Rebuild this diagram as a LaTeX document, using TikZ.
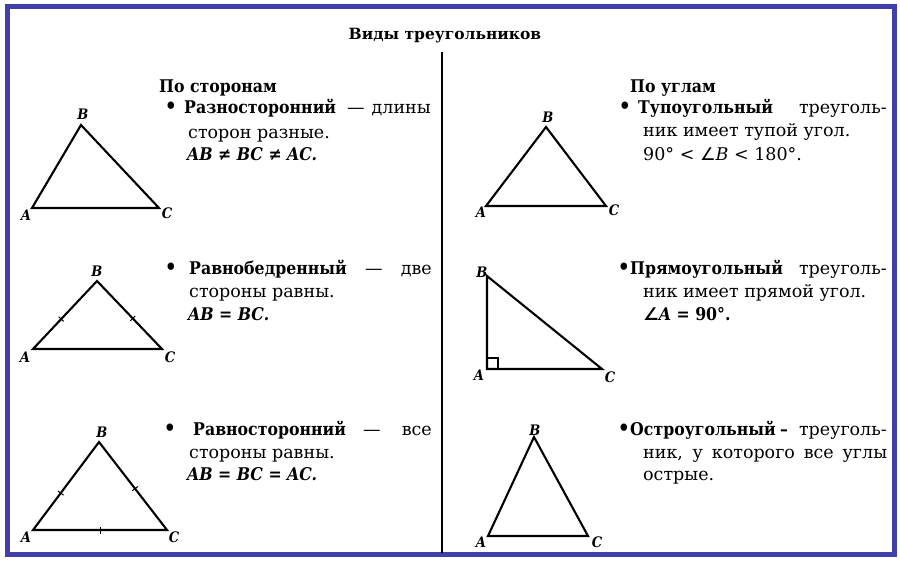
\documentclass[tikz,border=0pt]{standalone}
\usepackage{fontspec}
\setmainfont{DejaVu Serif}[BoldFeatures={FakeStretch=0.9}, BoldItalicFeatures={FakeStretch=0.9}]
\newfontfamily\tfont{DejaVu Serif}
\newfontfamily\symfont{DejaVu Sans}
\definecolor{frameblue}{RGB}{64,64,168}
\begin{document}
\begin{tikzpicture}[x=1pt,y=-1pt,
  txt/.style={anchor=base west, inner sep=0pt, font=\fontsize{17.5}{20}\selectfont},
  txte/.style={txt, anchor=base east},
  head/.style={txt, font=\fontsize{17.5}{20}\selectfont\bfseries},
  formula/.style={txt, font=\fontsize{17.5}{20}\selectfont\bfseries\itshape},
  bul/.style={anchor=base, inner sep=0pt, font=\fontsize{21}{22}\selectfont\bfseries},
  vlab/.style={inner sep=0pt, font=\fontsize{14.5}{16}\selectfont\bfseries\itshape},
  tri/.style={line width=2.1pt, line join=miter},
  tickmark/.style={sloped, inner sep=0pt, anchor=center},
]
% background and bounding box
\fill[white] (0,0) rectangle (900,564);
\useasboundingbox (0,0) rectangle (900,564);
% frame
\draw[frameblue, line width=4.5pt] (7.5,6.5) rectangle (894.5,554.5);
% divider
\coordinate (dtop) at (442,52);
\coordinate (dbot) at (442,553);
\draw[line width=1.4pt] (dtop) -- (dbot);

% title
\node[anchor=base, inner sep=0pt, font=\fontsize{15.5}{18}\tfont\bfseries] (title) at (445,40) {Виды треугольников};

% ===== Left column =====
\node[head] (hl) at (159,93) {По сторонам};

% block 1
\node[bul] (b1) at (171,114) {•};
\node[head] (l1a) at (184,114) {Разносторонний};
\node[txt] (l1b) at (347,114) {—};
\node[txte] (l1c) at (431,114) {длины};
\node[txt] (l1d) at (188,139) {сторон разные.};
\node[formula] (l1e) at (187,161) {AB ≠ BC ≠ AC.};

% block 2
\node[bul] (b2) at (171,275) {•};
\node[head] (l2a) at (189,275) {Равнобедренный};
\node[txt] (l2b) at (365,275) {—};
\node[txte] (l2c) at (432,275) {две};
\node[txt] (l2d) at (189,298) {стороны равны.};
\node[formula] (l2e) at (188,320) {AB = BC.};

% block 3
\node[bul] (b3) at (170,435) {•};
\node[head] (l3a) at (193,435) {Равносторонний};
\node[txt] (l3b) at (363,435) {—};
\node[txte] (l3c) at (432,435) {все};
\node[txt] (l3d) at (189,458) {стороны равны.};
\node[formula] (l3e) at (187,480) {AB = BC = AC.};

% ===== Right column =====
\node[head] (hr) at (630,93) {По углам};

% block R1
\node[bul] (r1) at (625,114) {•};
\node[head] (r1a) at (638,114) {Тупоугольный};
\node[txte] (r1b) at (887,114) {треуголь-};
\node[txt] (r1c) at (643,137) {ник имеет тупой угол.};
\node[txt] (r1d) at (643,161) {90° < {\symfont ∠}\textit{B} < 180°.};

% block R2
\node[bul] (r2) at (624,275) {•};
\node[head] (r2a) at (630,275) {Прямоугольный};
\node[txte] (r2b) at (887,275) {треуголь-};
\node[txt] (r2c) at (643,298) {ник имеет прямой угол.};
\node[txt, font=\fontsize{17.5}{20}\selectfont\bfseries] (r2d) at (643,320) {{\symfont ∠}\textit{A} = 90°.};

% block R3
\node[bul] (r3) at (624,435) {•};
\node[head] (r3a) at (630,435) {Остроугольный};
\node[head] (r3b) at (780,435) {–};
\node[txte] (r3c) at (887,435) {треуголь-};
\node[txt] (r3d) at (643,458) {\makebox[244pt][s]{ник, у которого все углы}};
\node[txt] (r3e) at (643,480) {острые.};

% ===== Triangles =====
% T1 scalene
\coordinate (t1A) at (32,208);
\coordinate (t1B) at (81,125);
\coordinate (t1C) at (159,208);
\draw[tri] (t1A) -- (t1B) -- (t1C) -- cycle;
\node[vlab] (t1a) at (26,215) {A};
\node[vlab] (t1b) at (83,114) {B};
\node[vlab] (t1c) at (167,213) {C};

% T2
\coordinate (t2A) at (486,206);
\coordinate (t2B) at (546,127);
\coordinate (t2C) at (606,206);
\draw[tri] (t2A) -- (t2B) -- (t2C) -- cycle;
\node[vlab] (t2a) at (481,212) {A};
\node[vlab] (t2b) at (548,117) {B};
\node[vlab] (t2c) at (614,210) {C};

% T3 isosceles
\coordinate (t3A) at (33,349);
\coordinate (t3B) at (97,281);
\coordinate (t3C) at (162,349);
\draw[tri] (t3A) -- (t3B) -- (t3C) -- cycle;
\path (t3A) -- (t3B) node[tickmark, pos=0.44] {\rule{1pt}{7pt}};
\path (t3B) -- (t3C) node[tickmark, pos=0.55] {\rule{1pt}{7pt}};
\node[vlab] (t3a) at (25,357) {A};
\node[vlab] (t3b) at (97,271) {B};
\node[vlab] (t3c) at (170,357) {C};

% T4 right
\coordinate (t4A) at (487,369);
\coordinate (t4B) at (487,276);
\coordinate (t4C) at (602,369);
\draw[tri] (t4A) -- (t4B) -- (t4C) -- cycle;
\coordinate (sq1) at (487,358);
\coordinate (sq2) at (498,358);
\coordinate (sq3) at (498,369);
\draw[line width=1.2pt] (sq1) -- (sq2) -- (sq3);
\node[vlab] (t4b) at (482,272) {B};
\node[vlab] (t4a) at (479,375) {A};
\node[vlab] (t4c) at (610,377) {C};

% T5 equilateral
\coordinate (t5A) at (33,530);
\coordinate (t5B) at (99,442);
\coordinate (t5C) at (167,530);
\draw[tri] (t5A) -- (t5B) -- (t5C) -- cycle;
\path (t5A) -- (t5B) node[tickmark, pos=0.42] {\rule{1pt}{7pt}};
\path (t5B) -- (t5C) node[tickmark, pos=0.53] {\rule{1pt}{7pt}};
\path (t5A) -- (t5C) node[tickmark, pos=0.5] {\rule{1pt}{7pt}};
\node[vlab] (t5b) at (102,432) {B};
\node[vlab] (t5a) at (26,537) {A};
\node[vlab] (t5c) at (174,537) {C};

% T6 acute
\coordinate (t6A) at (488,536);
\coordinate (t6B) at (534,437);
\coordinate (t6C) at (588,536);
\draw[tri] (t6A) -- (t6B) -- (t6C) -- cycle;
\node[vlab] (t6b) at (535,430) {B};
\node[vlab] (t6a) at (481,542) {A};
\node[vlab] (t6c) at (597,542) {C};
\end{tikzpicture}
\end{document}
